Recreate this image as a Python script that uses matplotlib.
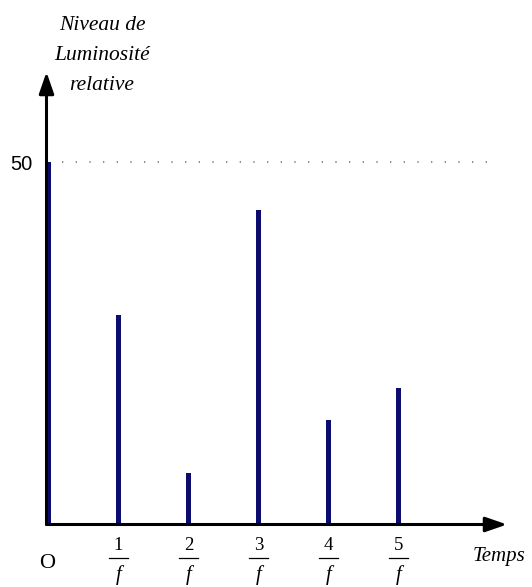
"""Stroboscope-style luminosity chart: relative brightness sampled at multiples of 1/f."""

import matplotlib

matplotlib.use("Agg")
import matplotlib.pyplot as plt

# data
sample_index = [0, 1, 2, 3, 4, 5]
luminosity = [50, 28.9, 7.1, 43.4, 14.4, 18.8]
numerators = ["1", "2", "3", "4", "5"]
reference_level = 50

BAR_COLOR = "#0c0c6e"
W, H = 532, 587


def px(x, y):
    """Pixel position (from top-left) to figure fraction."""
    return x / W, 1 - y / H


fig = plt.figure(figsize=(W / 100, H / 100), dpi=100)
fig.patch.set_facecolor("white")

# axes placed so one unit of x is 70 px and one unit of y is 7.25 px
x0_px, unit_x = 48.5, 70.0
y0_px, unit_y = 524.5, 7.25
left_px, right_px, top_px = 46.5, 507.0, 72.0
ax = fig.add_axes([left_px / W, (H - y0_px) / H,
                   (right_px - left_px) / W, (y0_px - top_px) / H])
ax.set_xlim((left_px - x0_px) / unit_x, (right_px - x0_px) / unit_x)
ax.set_ylim(0, (y0_px - top_px) / unit_y)
ax.axis("off")

ax.bar(sample_index, luminosity, width=0.07, color=BAR_COLOR, zorder=3)

# faint dotted reference level
ax.plot([0.19, 6.34], [reference_level, reference_level], color="#7a7a7a",
        lw=1.2, linestyle=(0, (0.8, 7.4)), zorder=1)

# axes with arrow heads
arrow = dict(arrowstyle="-|>,head_length=1.3,head_width=0.45", lw=2.2,
             color="black", shrinkA=0, shrinkB=0)
ax.annotate("", xy=(0, 1), xytext=(0, 0), xycoords="axes fraction",
            arrowprops=arrow, zorder=4)
ax.annotate("", xy=(1, 0), xytext=(0, 0), xycoords="axes fraction",
            arrowprops=arrow, zorder=4)

serif = "Liberation Serif"

# tick labels as fractions n/f
for n, label in zip(sample_index[1:], numerators):
    cx = x0_px + n * unit_x
    fig.text(*px(cx, 545.5), label, family=serif, fontsize=13.5,
             ha="center", va="center")
    fig.add_artist(plt.Line2D([(cx - 9.5) / W, (cx + 9.5) / W],
                              [1 - 557.5 / H, 1 - 557.5 / H],
                              color="black", lw=0.9))
    fig.text(*px(cx, 575), "f", family=serif, style="italic", fontsize=15,
             ha="center", va="center")

fig.text(*px(47.5, 563), "O", family=serif, fontsize=16,
         ha="center", va="center")
fig.text(*px(499, 557), "Temps", family=serif, style="italic", fontsize=15,
         ha="center", va="center")
fig.text(*px(21.5, 165), "50", family="Liberation Sans", fontsize=14.5,
         ha="center", va="center")

for y, line in zip([26, 56, 85], ["Niveau de", "Luminosité", "relative"]):
    fig.text(*px(102, y), line, family=serif, style="italic", fontsize=15.5,
             ha="center", va="center")

fig.savefig("out.png", dpi=100, facecolor="white")
